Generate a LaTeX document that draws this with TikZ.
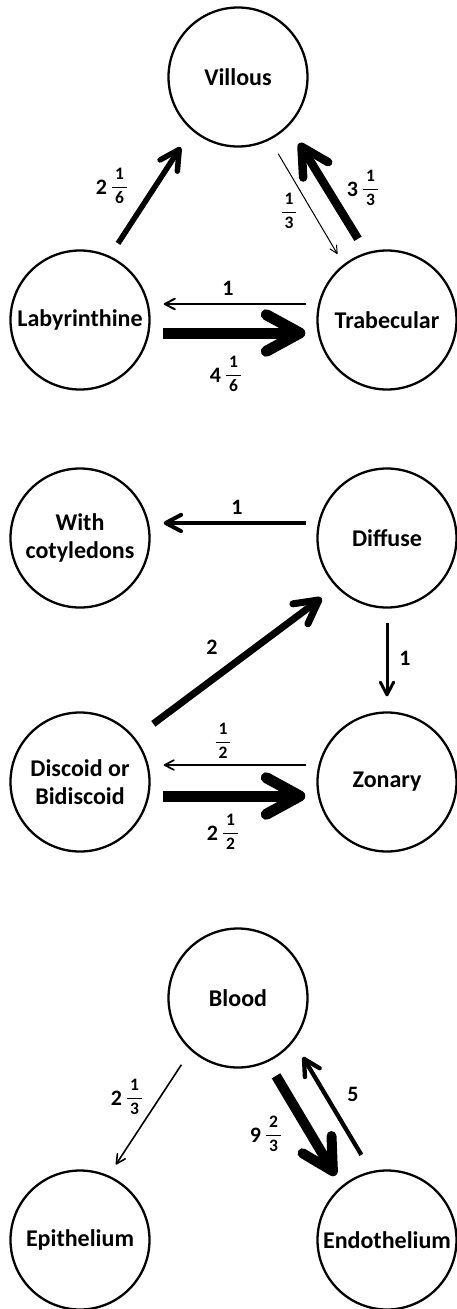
\documentclass[tikz,border=0pt]{standalone}
\usepackage{amsmath}
\usepackage{fontspec}
\setmainfont{Carlito}
\usetikzlibrary{arrows.meta}

% stacked fraction and mixed number for the arrow weights
\newcommand{\fr}[2]{\raisebox{3pt}{\fontsize{17.5}{20}\selectfont$\genfrac{}{}{0.9pt}{0}{\text{\,#1\,}}{\text{\,#2\,}}$}}
\newcommand{\mixed}[3]{#1\hspace{4pt}\fr{#2}{#3}}

\begin{document}
\begin{tikzpicture}[x=1pt,y=-1pt,
  circ/.style={draw,circle,line width=2.3pt,minimum size=139pt,inner sep=0pt,
    align=center,font=\fontsize{24}{28}\selectfont\bfseries},
  flow/.style={-{Straight Barb[round,length=5pt 2.6,width=4.7pt 2.9]}},
  lbl/.style={inner sep=0pt,font=\fontsize{22}{26}\selectfont\bfseries}]
\useasboundingbox (0,0) rectangle (457,1309);

% placenta type
\node[circ] (vil) at (238,77) {Villous};
\node[circ] (lab) at (80,320) {Labyrinthine};
\node[circ] (tra) at (387,320) {Trabecular};
\draw[flow,line width=5.5pt,shorten <=15pt,shorten >=20pt] (lab.65) -- (vil.229);
\draw[flow,line width=1pt,shorten <=16pt,shorten >=12pt] (vil.297) -- (tra.128);
\draw[flow,line width=8.5pt,shorten <=16pt,shorten >=20pt] (tra.107) -- (vil.316);
\draw[flow,line width=2pt,shorten <=10pt,shorten >=13pt] ([yshift=16pt]tra.west) -- ([yshift=16pt]lab.east);
\draw[flow,line width=11pt,shorten <=12pt,shorten >=11pt] ([yshift=-13pt]lab.east) -- ([yshift=-13pt]tra.west);
\node[lbl] (a1) at (112,186) {\mixed{2}{1}{6}};
\node[lbl] (a2) at (289,211) {\fr{1}{3}};
\node[lbl] (a3) at (363,188) {\mixed{3}{1}{3}};
\node[lbl] (a4) at (228,288) {1};
\node[lbl] (a5) at (226,374) {\mixed{4}{1}{6}};

% placenta shape
\node[circ] (wco) at (80,538) {With\\cotyledons};
\node[circ] (dif) at (387,538) {Diffuse};
\node[circ] (dis) at (80,782) {Discoid or\\Bidiscoid};
\node[circ] (zon) at (387,782) {Zonary};
\draw[flow,line width=4pt,shorten <=10pt,shorten >=13pt] ([yshift=15pt]dif.west) -- ([yshift=15pt]wco.east);
\draw[flow,line width=3pt,shorten <=14pt,shorten >=15pt] (dif.south) -- (zon.north);
\draw[flow,line width=7pt,shorten <=23pt,shorten >=18pt] (dis.39) -- (dif.224);
\draw[flow,line width=1.7pt,shorten <=10pt,shorten >=13pt] ([yshift=17pt]zon.west) -- ([yshift=17pt]dis.east);
\draw[flow,line width=11pt,shorten <=12pt,shorten >=11pt] ([yshift=-14pt]dis.east) -- ([yshift=-14pt]zon.west);
\node[lbl] (b1) at (237,507) {1};
\node[lbl] (b2) at (405,658) {1};
\node[lbl] (b3) at (212,647) {2};
\node[lbl] (b4) at (223,741) {\fr{1}{2}};
\node[lbl] (b5) at (223,832) {\mixed{2}{1}{2}};

% interhaemal barrier
\node[circ] (blo) at (238,998) {Blood};
\node[circ] (epi) at (80,1240) {Epithelium};
\node[circ] (end) at (387,1240) {Endothelium};
\draw[flow,line width=1.6pt,shorten <=17pt,shorten >=13pt] (blo.228) -- (epi.66);
\draw[flow,line width=10pt,shorten <=16pt,shorten >=12pt] (blo.295) -- (end.130);
\draw[flow,line width=4.3pt,shorten <=19pt,shorten >=18pt] (end.103) -- (blo.322);
\node[lbl] (c1) at (127,1097) {\mixed{2}{1}{3}};
\node[lbl] (c2) at (266,1134) {\mixed{9}{2}{3}};
\node[lbl] (c3) at (353,1094) {5};
\end{tikzpicture}
\end{document}
